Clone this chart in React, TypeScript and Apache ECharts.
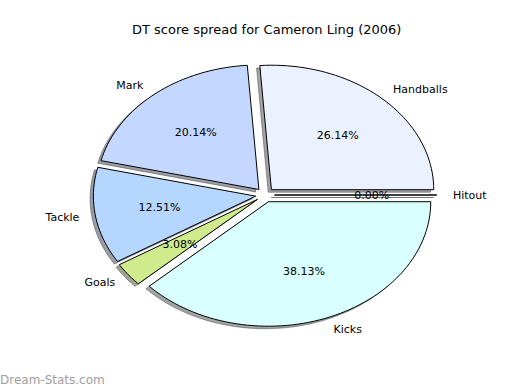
import React, { useEffect, useRef } from "react";
import * as echarts from "echarts";

const categories = ["Handballs", "Mark", "Tackle", "Goals", "Kicks", "Hitout"];
const values = [26.14, 20.14, 12.51, 3.08, 38.13, 0.0];
const colors = ["#ebf1ff", "#c4d7ff", "#b4d6ff", "#cfeb8b", "#d9ffff", "#ffffff"];
const titleText = "DT score spread for Cameron Ling (2006)";
const watermark = "Dream-Stats.com";

const EXPLODE = 0.058;
const LABEL_DIST = 1.1;
const PCT_DIST = 0.6;
const FONT = "DejaVu Sans";

function shadowColor(hex: string) {
  const n = parseInt(hex.slice(1), 16);
  const r = Math.round(((n >> 16) & 255) * 0.3);
  const g = Math.round(((n >> 8) & 255) * 0.3);
  const b = Math.round((n & 255) * 0.3);
  return `rgb(${r},${g},${b})`;
}

export default function App() {
  const ref = useRef<HTMLDivElement>(null);
  useEffect(() => {
    document.body.style.margin = "0";
    const chart = echarts.init(ref.current!, null, { renderer: "svg" });
    const total = values.reduce((a, b) => a + b, 0);
    const starts: number[] = [];
    let acc = 0;
    values.forEach((v) => {
      starts.push(acc);
      acc += v;
    });
    const data = values.map((v, i) => [v, starts[i]]);

    const renderItem = (params: any, api: any) => {
      const i = params.dataIndex;
      const v = api.value(0);
      const s = api.value(1);
      const t1 = (s / total) * Math.PI * 2;
      const t2 = ((s + v) / total) * Math.PI * 2;
      const tm = (t1 + t2) / 2;
      const ox = EXPLODE * Math.cos(tm);
      const oy = EXPLODE * Math.sin(tm);
      const steps = Math.max(2, Math.ceil(((t2 - t1) / (Math.PI * 2)) * 180));
      const pts: number[][] = [api.coord([ox, oy])];
      const spts: number[][] = [api.coord([ox - 0.02, oy - 0.02])];
      for (let k = 0; k <= steps; k++) {
        const t = t1 + ((t2 - t1) * k) / steps;
        pts.push(api.coord([ox + Math.cos(t), oy + Math.sin(t)]));
        spts.push(api.coord([ox - 0.02 + Math.cos(t), oy - 0.02 + Math.sin(t)]));
      }
      const sc = shadowColor(colors[i]);
      const lp = api.coord([ox + LABEL_DIST * Math.cos(tm), oy + LABEL_DIST * Math.sin(tm)]);
      const pp = api.coord([ox + PCT_DIST * Math.cos(tm), oy + PCT_DIST * Math.sin(tm)]);
      const right = Math.cos(tm) > 0;
      return {
        type: "group",
        children: [
          {
            type: "polygon",
            z2: 1,
            shape: { points: spts },
            style: { fill: sc, stroke: sc, lineWidth: 1, opacity: 0.5 },
          },
          {
            type: "polygon",
            z2: 10,
            shape: { points: pts },
            style: { fill: colors[i], stroke: "#000000", lineWidth: 1 },
          },
          {
            type: "text",
            z2: 20,
            x: pp[0],
            y: pp[1],
            style: {
              text: `${values[i].toFixed(2)}%`,
              align: "center",
              verticalAlign: "middle",
              textAlign: "center",
              textVerticalAlign: "middle",
              fontSize: 11,
              fontFamily: FONT,
              fill: "#000",
            },
          },
          {
            type: "text",
            z2: 20,
            x: lp[0],
            y: lp[1],
            style: {
              text: categories[i],
              align: right ? "left" : "right",
              verticalAlign: "middle",
              textAlign: right ? "left" : "right",
              textVerticalAlign: "middle",
              fontSize: 11,
              fontFamily: FONT,
              fill: "#000",
            },
          },
        ],
      };
    };

    chart.setOption({
      animation: false,
      backgroundColor: "#ffffff",
      title: {
        text: titleText,
        left: 127,
        top: 18,
        textStyle: { fontSize: 13, fontWeight: "normal", fontFamily: FONT, color: "#000" },
      },
      grid: { left: 21.5, top: 8.25, width: 487, height: 373.5 },
      xAxis: { type: "value", min: -1.5, max: 1.5, show: false },
      yAxis: { type: "value", min: -1.5, max: 1.5, show: false },
      series: [
        {
          type: "custom",
          coordinateSystem: "cartesian2d",
          renderItem,
          data,
          clip: false,
        },
      ],
      graphic: [
        {
          type: "text",
          left: 0,
          top: 374,
          style: { text: watermark, fontSize: 12, fontFamily: FONT, fill: "#a0a0a0" },
        },
      ],
    });
    return () => chart.dispose();
  }, []);
  return <div ref={ref} style={{ width: 520, height: 390 }} />;
}
